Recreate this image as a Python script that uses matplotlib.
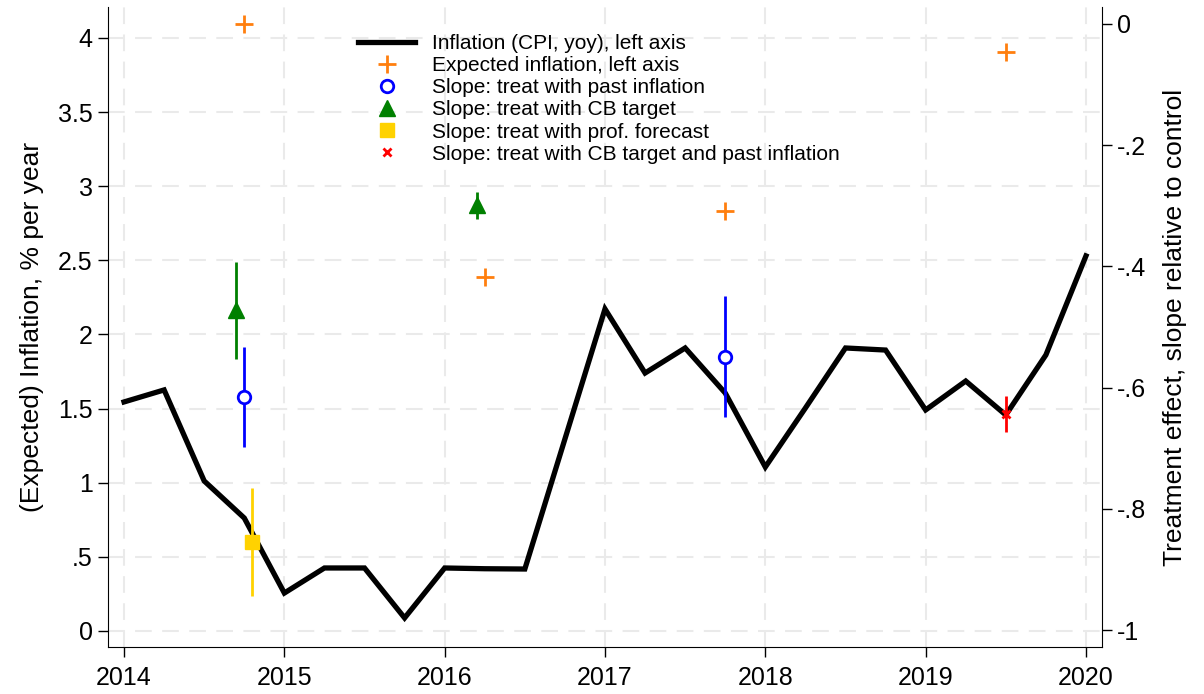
import numpy as np
import matplotlib as mpl
mpl.use('Agg')
import matplotlib.pyplot as plt

plt.rcParams['font.family'] = ['Liberation Sans', 'DejaVu Sans']

# CPI inflation, quarterly
cpi_time = [2014.0, 2014.25, 2014.5, 2014.75, 2015.0, 2015.25, 2015.5, 2015.75,
            2016.0, 2016.25, 2016.5, 2016.75, 2017.0, 2017.25, 2017.5, 2017.75,
            2018.0, 2018.25, 2018.5, 2018.75, 2019.0, 2019.25, 2019.5, 2019.75, 2020.0]
cpi = [1.545, 1.626, 1.012, 0.762, 0.256, 0.425, 0.425, 0.088,
       0.425, 0.42, 0.418, 1.295, 2.172, 1.74, 1.909, 1.605,
       1.106, 1.504, 1.909, 1.895, 1.491, 1.686, 1.457, 1.862, 2.53]

# expected inflation (left axis)
exp_time = [2014.75, 2016.25, 2017.75, 2019.5]
exp_infl = [4.095, 2.388, 2.833, 3.906]

# treatment effects (right axis): time, estimate, lower, upper
past_time = [2014.75, 2017.75]
past_est = [-0.616, -0.550]
past_lo = [-0.698, -0.648]
past_hi = [-0.533, -0.449]

cb_time = [2014.70, 2016.20]
cb_est = [-0.472, -0.299]
cb_lo = [-0.553, -0.322]
cb_hi = [-0.393, -0.277]

prof_time = [2014.80]
prof_est = [-0.855]
prof_lo = [-0.944]
prof_hi = [-0.766]

cbpast_time = [2019.50]
cbpast_est = [-0.644]
cbpast_lo = [-0.673]
cbpast_hi = [-0.614]

years = [2014, 2015, 2016, 2017, 2018, 2019, 2020]
left_ticks = [0, 0.5, 1, 1.5, 2, 2.5, 3, 3.5, 4]
left_labels = ["0", ".5", "1", "1.5", "2", "2.5", "3", "3.5", "4"]
right_ticks = [-1, -0.8, -0.6, -0.4, -0.2, 0]
right_labels = ["-1", "-.8", "-.6", "-.4", "-.2", "0"]

orange = "#FF7F0E"
blue = "#0000FF"
green = "#008000"
gold = "#FFD200"
red = "#FF0000"
grid_col = "#EAEAEA"

fig = plt.figure(figsize=(12.04, 6.94), dpi=100)
ax = fig.add_axes([108/1204, 47/694, 994/1204, 640/694])
ax2 = ax.twinx()

ax.set_xlim(2013.9, 2020.1)
ax.set_ylim(-0.108, 4.209)
ax2.set_ylim(-1.028, 0.028)

ax.set_xticks(years)
ax.set_yticks(left_ticks)
ax.set_yticklabels(left_labels)
ax2.set_yticks(right_ticks)
ax2.set_yticklabels(right_labels)

for a in (ax, ax2):
    a.spines['top'].set_visible(False)
    a.tick_params(labelsize=18, length=7, width=1, direction='out', pad=4)
ax.tick_params(axis='x', pad=7)
ax.spines['right'].set_visible(False)
ax2.spines['left'].set_visible(False)
ax2.spines['bottom'].set_visible(False)

ax.grid(True, color=grid_col, linestyle=(0, (8, 5)), linewidth=1.5)
ax.set_axisbelow(True)

l_cpi, = ax.plot(cpi_time, cpi, color="black", linewidth=3.8,
                 solid_joinstyle='miter', label="Inflation (CPI, yoy), left axis")
l_exp, = ax.plot(exp_time, exp_infl, linestyle="none", marker="+", markersize=13,
                 markeredgewidth=2, color=orange, label="Expected inflation, left axis")

ax2.vlines(past_time, past_lo, past_hi, color=blue, linewidth=2)
l_past, = ax2.plot(past_time, past_est, linestyle="none", marker="o", markersize=9,
                   markerfacecolor="white", markeredgecolor=blue, markeredgewidth=2,
                   label="Slope: treat with past inflation")
ax2.vlines(cb_time, cb_lo, cb_hi, color=green, linewidth=2)
l_cb, = ax2.plot(cb_time, cb_est, linestyle="none", marker="^", markersize=11,
                 color=green, label="Slope: treat with CB target")
ax2.vlines(prof_time, prof_lo, prof_hi, color=gold, linewidth=2)
l_prof, = ax2.plot(prof_time, prof_est, linestyle="none", marker="s", markersize=10,
                   color=gold, label="Slope: treat with prof. forecast")
ax2.vlines(cbpast_time, cbpast_lo, cbpast_hi, color=red, linewidth=2)
l_cbpast, = ax2.plot(cbpast_time, cbpast_est, linestyle="none", marker="x", markersize=6,
                     markeredgewidth=2, color=red,
                     label="Slope: treat with CB target and past inflation")

ax.set_ylabel("(Expected) Inflation, % per year", fontsize=19, labelpad=10)
ax2.set_ylabel("Treatment effect, slope relative to control", fontsize=19, labelpad=12)

handles = [l_cpi, l_exp, l_past, l_cb, l_prof, l_cbpast]
ax2.legend(handles=handles, loc="upper left", bbox_to_anchor=(250/994, 1 - 27/640),
           frameon=False, fontsize=15, handlelength=2.74, handletextpad=0.82,
           labelspacing=0.15, borderpad=0, borderaxespad=0)

plt.savefig("out.png", dpi=100)
plt.close()
